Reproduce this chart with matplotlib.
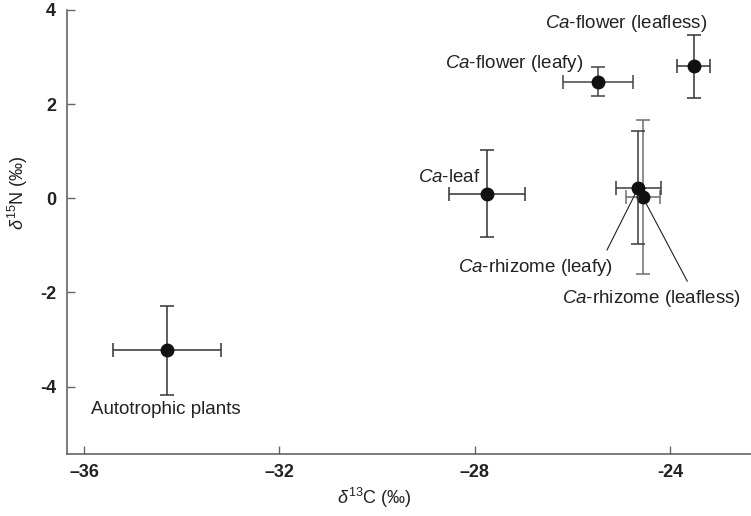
import matplotlib
matplotlib.use('Agg')
import matplotlib.pyplot as plt

plt.rcParams['font.family'] = 'Liberation Sans'
plt.rcParams['mathtext.fontset'] = 'custom'
plt.rcParams['mathtext.rm'] = 'Liberation Sans'
plt.rcParams['mathtext.it'] = 'Liberation Sans:italic'

# --- donnees ---
labels = ['Autotrophic plants', r'$\mathit{Ca}$-leaf', r'$\mathit{Ca}$-flower (leafy)',
          r'$\mathit{Ca}$-flower (leafless)', r'$\mathit{Ca}$-rhizome (leafy)',
          r'$\mathit{Ca}$-rhizome (leafless)']
d13C = [-34.30, -27.75, -25.47, -23.51, -24.65, -24.56]
d13C_err = [1.10, 0.78, 0.72, 0.34, 0.46, 0.35]
d15N = [-3.23, 0.10, 2.48, 2.80, 0.22, 0.03]
d15N_err = [0.95, 0.92, 0.31, 0.67, 1.20, 1.63]

xticks = [-36, -32, -28, -24]
xticklabels = ['\u201336', '\u201332', '\u201328', '-24']
yticks = [4, 2, 0, -2, -4]
yticklabels = ['4', '2', '0', '-2', '-4']

# decalage des etiquettes (points) et alignement
offsets = [(-1, -42.5), (-4.5, 11.7), (-10.8, 13), (9.4, 31), (-74, -57), (6.3, -73)]
aligns = ['center', 'right', 'right', 'right', 'center', 'center']
leader = [None, None, None, None, (0.94, 1.0), (0.72, 1.0)]

fig = plt.figure(figsize=(7.51, 5.16), dpi=100)
ax = fig.add_axes([0.0892, 0.1202, 0.9108, 0.8605])

ecols = ['#333333', '#333333', '#444444', '#333333', '#3a3a3a', '#6e6e6e']
for i in range(len(labels)):
    ax.errorbar(d13C[i], d15N[i], xerr=d13C_err[i], yerr=d15N_err[i], fmt='o',
                color='#111111', ms=9, ecolor=ecols[i], elinewidth=1.1,
                capsize=5, capthick=1.1, zorder=3 if i != 4 else 4)

for i, lab in enumerate(labels):
    props = None
    if leader[i] is not None:
        props = dict(arrowstyle='-', color='#222222', lw=0.8,
                     relpos=leader[i], shrinkA=3, shrinkB=3)
    ax.annotate(lab, xy=(d13C[i], d15N[i]), xytext=offsets[i],
                textcoords='offset points', ha=aligns[i], va='center',
                fontsize=13.5, color='#222222', arrowprops=props)

ax.set_xlim(-36.35, -22.34)
ax.set_ylim(-5.43, 4.0)

for s in ['top', 'right']:
    ax.spines[s].set_visible(False)
for s in ['left', 'bottom']:
    ax.spines[s].set_color('#666666')
    ax.spines[s].set_linewidth(1.2)

ax.set_xticks(xticks)
ax.set_xticklabels(xticklabels)
ax.set_yticks(yticks)
ax.set_yticklabels(yticklabels)
ax.tick_params(direction='in', length=6, width=1, color='#666666',
               labelsize=13, labelcolor='#222222')
ax.tick_params(axis='y', pad=8)
ax.tick_params(axis='x', pad=7)
for t in ax.get_xticklabels() + ax.get_yticklabels():
    t.set_fontweight('bold')

ax.set_xlabel(r'$\mathit{\delta}^{13}$C (' + '\u2030)', fontsize=13, color='#222222')
ax.set_ylabel(r'$\mathit{\delta}^{15}$N (' + '\u2030)', fontsize=13, color='#222222')
ax.xaxis.set_label_coords(0.449, -0.072)
ax.yaxis.set_label_coords(-0.054, 0.588)

fig.savefig('out.png', dpi=100)
